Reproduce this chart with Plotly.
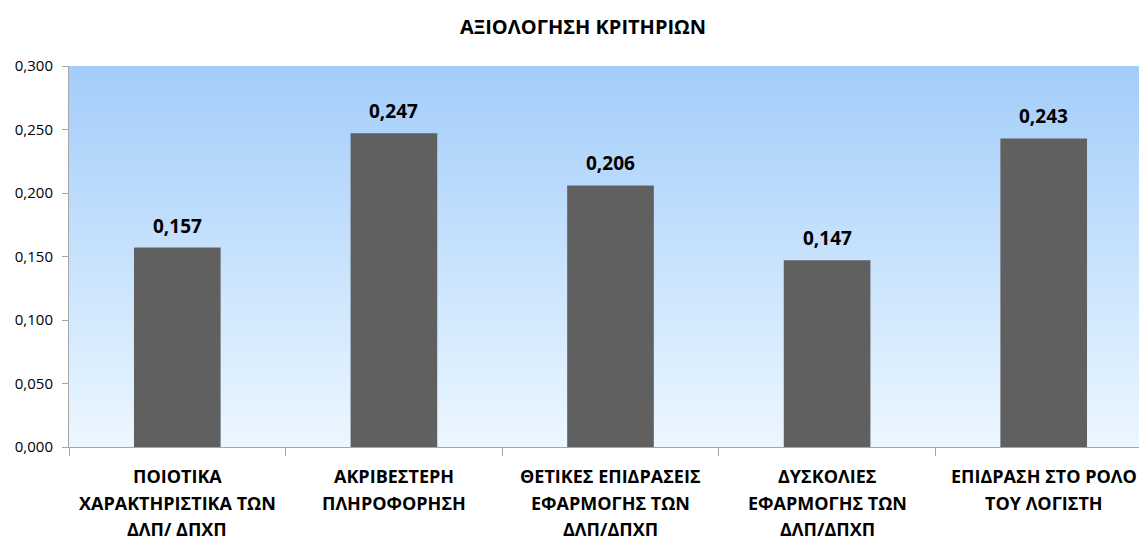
import base64
import struct
import zlib

import plotly.graph_objects as go

# Criteria (one entry per bar, lines of the axis label) and their weights
categories = [
    "ΠΟΙΟΤΙΚΑ<br>ΧΑΡΑΚΤΗΡΙΣΤΙΚΑ ΤΩΝ<br>ΔΛΠ/ ΔΠΧΠ",
    "ΑΚΡΙΒΕΣΤΕΡΗ<br>ΠΛΗΡΟΦΟΡΗΣΗ",
    "ΘΕΤΙΚΕΣ ΕΠΙΔΡΑΣΕΙΣ<br>ΕΦΑΡΜΟΓΗΣ ΤΩΝ<br>ΔΛΠ/ΔΠΧΠ",
    "ΔΥΣΚΟΛΙΕΣ<br>ΕΦΑΡΜΟΓΗΣ ΤΩΝ<br>ΔΛΠ/ΔΠΧΠ",
    "ΕΠΙΔΡΑΣΗ ΣΤΟ ΡΟΛΟ<br>ΤΟΥ ΛΟΓΙΣΤΗ",
]
weights = [0.157, 0.247, 0.206, 0.147, 0.243]
y_ticks = [0.0, 0.05, 0.10, 0.15, 0.20, 0.25, 0.30]

title_text = "ΑΞΙΟΛΟΓΗΣΗ ΚΡΙΤΗΡΙΩΝ"

FONT = "'Open Sans', 'Noto Sans', sans-serif"
BAR_COLOR = "#606060"
AXIS_COLOR = "#a6a6a6"
TOP_BG = (163, 205, 250)
BOTTOM_BG = (236, 247, 255)


def gradient_png(top, bottom, rows=256):
    """Build a 1-pixel-wide vertical gradient PNG and return it as a data URI."""
    raw = b""
    for i in range(rows):
        t = i / (rows - 1)
        px = bytes(round(top[k] + (bottom[k] - top[k]) * t) for k in range(3))
        raw += b"\x00" + px

    def chunk(tag, data):
        body = tag + data
        return struct.pack(">I", len(data)) + body + struct.pack(">I", zlib.crc32(body) & 0xFFFFFFFF)

    png = b"\x89PNG\r\n\x1a\n"
    png += chunk(b"IHDR", struct.pack(">IIBBBBB", 1, rows, 8, 2, 0, 0, 0))
    png += chunk(b"IDAT", zlib.compress(raw, 9))
    png += chunk(b"IEND", b"")
    return "data:image/png;base64," + base64.b64encode(png).decode("ascii")


fig = go.Figure(
    go.Bar(
        x=categories,
        y=weights,
        width=0.40,
        marker=dict(color=BAR_COLOR, line=dict(width=0)),
        hoverinfo="skip",
    )
)

# Plot-area background: light blue vertical gradient
fig.add_layout_image(
    source=gradient_png(TOP_BG, BOTTOM_BG),
    xref="x domain", yref="y domain",
    x=0, y=1, sizex=1, sizey=1,
    xanchor="left", yanchor="top",
    sizing="stretch",
    layer="below",
)

# Value labels above each bar
for cat, val in zip(categories, weights):
    fig.add_annotation(
        x=cat, y=val,
        text=f"<b>{val:.3f}</b>".replace(".", ","),
        showarrow=False,
        yanchor="bottom",
        yshift=7,
        font=dict(family=FONT, size=19, color="#000000"),
    )

# Category labels under the axis, one annotation per line for wider line spacing
LINE_GAP = 26.5
for cat in categories:
    for j, line in enumerate(cat.split("<br>")):
        fig.add_annotation(
            x=cat, xref="x",
            y=0, yref="paper",
            yshift=-29 - j * LINE_GAP,
            text=f"<b>{line}</b>",
            showarrow=False,
            xanchor="center", yanchor="middle",
            font=dict(family=FONT, size=18, color="#000000"),
        )

fig.add_annotation(
    xref="paper", yref="paper",
    x=(583 - 69) / (1139 - 69), y=1,
    yshift=40,
    text=f"<b>{title_text}</b>",
    showarrow=False,
    xanchor="center", yanchor="middle",
    font=dict(family=FONT, size=20, color="#000000"),
)

fig.update_layout(
    width=1139,
    height=547,
    margin=dict(l=69, r=0, t=66, b=100),
    paper_bgcolor="#ffffff",
    plot_bgcolor=f"rgb{BOTTOM_BG}",
    separators=",.",
    showlegend=False,
    font=dict(family=FONT, color="#000000"),
)

fig.update_xaxes(
    type="category",
    range=[-0.5, 4.44],
    showline=True,
    linecolor=AXIS_COLOR,
    linewidth=1,
    ticks="outside",
    tickson="boundaries",
    ticklen=8,
    tickcolor=AXIS_COLOR,
    showgrid=False,
    showticklabels=False,
    fixedrange=True,
)

fig.update_yaxes(
    range=[0, 0.3],
    tickvals=y_ticks,
    tickformat=".3f",
    showline=True,
    linecolor=AXIS_COLOR,
    linewidth=1,
    ticks="outside",
    ticklen=6,
    tickcolor=AXIS_COLOR,
    ticklabelstandoff=6,
    showgrid=False,
    zeroline=False,
    tickfont=dict(family=FONT, size=15, color="#000000"),
    fixedrange=True,
)

fig.write_html("out.html", config={"displayModeBar": False})
